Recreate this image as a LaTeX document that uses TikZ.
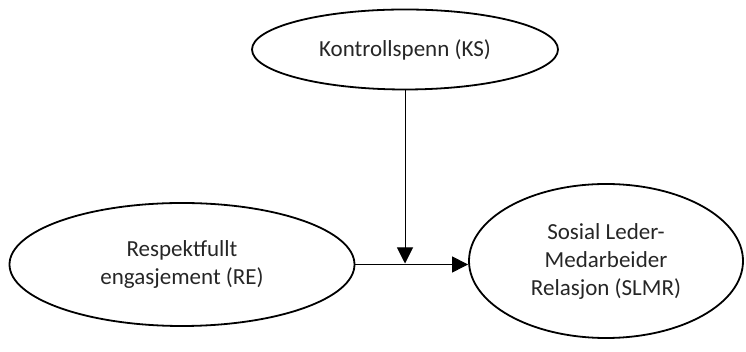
\documentclass[tikz,border=0pt]{standalone}
\usepackage{fontspec}
\setmainfont{Carlito}
\usetikzlibrary{shapes.geometric,arrows.meta}

\begin{document}
\begin{tikzpicture}[x=1pt,y=1pt,
    var/.style={draw,ellipse,line width=1.8pt,inner sep=0pt,align=center,
        font=\fontsize{23}{28}\selectfont,text=black!85},
    link/.style={line width=1pt,-{Triangle[length=16pt,width=16pt]}}]
    \useasboundingbox (0,0) rectangle (746,352);
    \node[var,minimum width=306pt,minimum height=80pt] (ks) at (405,302.5) {Kontrollspenn (KS)};
    \node[var,minimum width=345pt,minimum height=123pt] (re) at (182,87.5) {Respektfullt\\engasjement (RE)};
    \node[var,minimum width=274pt,minimum height=154pt] (slmr) at (606,91) {Sosial Leder-\\Medarbeider\\Relasjon (SLMR)};
    \coordinate (join) at (ks.south |- re.east);
    \draw[link] (re.east) -- (re.east -| slmr.west);
    \draw[link] (ks.south) -- ([yshift=1pt]join);
\end{tikzpicture}
\end{document}
